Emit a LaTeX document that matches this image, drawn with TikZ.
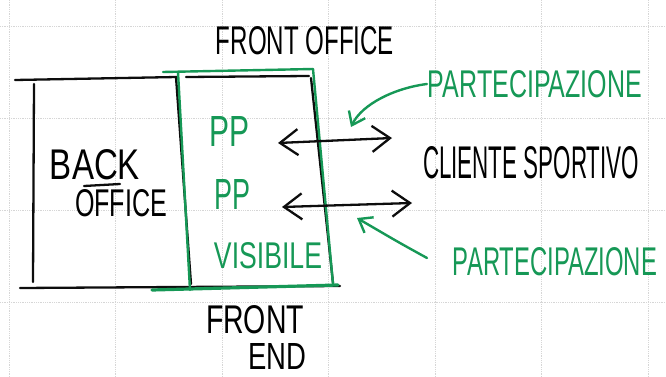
\documentclass[tikz,border=0pt]{standalone}
\usepackage{fontspec}
\setmainfont{Liberation Sans}
\usetikzlibrary{arrows.meta}

\definecolor{gridGray}{rgb}{0.84,0.84,0.84}
\definecolor{strokecol}{rgb}{0.05,0.05,0.05}
\definecolor{penGreen}{RGB}{22,152,86}

\begin{document}
\begin{tikzpicture}[x=1pt, y=-1pt, inner sep=0, outer sep=1,
    pen/.style={draw=strokecol, line width=2.3pt, line cap=round, line join=round},
    greenpen/.style={draw=penGreen, line width=2.4pt, line cap=round, line join=round},
    greentext/.style={text=penGreen},
    handtip/.style={{Straight Barb[length=18pt,width=26pt]}-{Straight Barb[length=18pt,width=26pt]}}]

    \def\hand#1#2#3{\resizebox{#1pt}{#2pt}{#3}}

    \useasboundingbox (0,0) rectangle (666,377);

    % paper grid
    \foreach \gx in {9,115.5,222,328.5,435,541.5,648}
        \draw[gridGray, densely dotted, line width=0.8pt] (\gx,0) -- (\gx,377);
    \foreach \gy in {26,118,210,302}
        \draw[gridGray, densely dotted, line width=0.8pt] (0,\gy) -- (666,\gy);

    % back office box
    \draw[pen] (15,80) -- (177,77);
    \draw[pen] (34,84) -- (33,282);
    \draw[pen] (20,288) -- (340,286);
    \draw[pen] (176,77) -- (191,284);

    % front office box
    \draw[pen] (186,77) -- (309,76);
    \draw[pen] (311,78) -- (333,283);

    % green frame (front end)
    \draw[greenpen] (163,72) -- (313,69);
    \draw[greenpen] (178,72) -- (190,290);
    \draw[greenpen] (313,69) -- (333,284);
    \draw[greenpen, line width=3.2pt] (152,290) -- (338,285);

    % labels
    \node (frontOffice) at (305,41) {\hand{178}{28}{FRONT OFFICE}};
    \node (back) at (95,165) {\hand{90}{30}{BACK}};
    \node (office) at (121,203) {\hand{92}{27}{OFFICE}};
    \draw[pen] (84,186) -- (120,184);

    \node[greentext] (ppTop) at (229,131) {\hand{40}{30}{PP}};
    \node[greentext] (ppBot) at (232,194) {\hand{36}{30}{PP}};
    \node[greentext] (visibile) at (268,256) {\hand{108}{26}{VISIBILE}};

    \node (front) at (255,320) {\hand{98}{28}{FRONT}};
    \node (frontEnd) at (277,356) {\hand{58}{26}{END}};

    \node (cliente) at (531,163) {\hand{216}{32}{CLIENTE SPORTIVO}};

    \node[greentext] (partTop) at (535,84) {\hand{214}{27}{PARTECIPAZIONE}};
    \node[greentext] (partBot) at (555,262) {\hand{204}{28}{PARTECIPAZIONE}};

    % double arrows
    \coordinate (arrTopL) at (278,143);
    \coordinate (arrTopR) at (392,138);
    \coordinate (arrBotL) at (282,207);
    \coordinate (arrBotR) at (412,203);
    \draw[pen, handtip] (arrTopL) -- (arrTopR);
    \draw[pen, handtip] (arrBotL) -- (arrBotR);

    % green pointers
    \coordinate (hookTop) at (351,127);
    \coordinate (tailBot) at (427,258);
    \coordinate (hookBot) at (357,218);
    \draw[greenpen, -{Straight Barb[length=12pt,width=18pt]}] (partTop.west) .. controls (395,88) and (362,104) .. (hookTop);
    \draw[greenpen, -{Straight Barb[length=12pt,width=18pt]}] (tailBot) .. controls (398,242) .. (hookBot);
\end{tikzpicture}
\end{document}
